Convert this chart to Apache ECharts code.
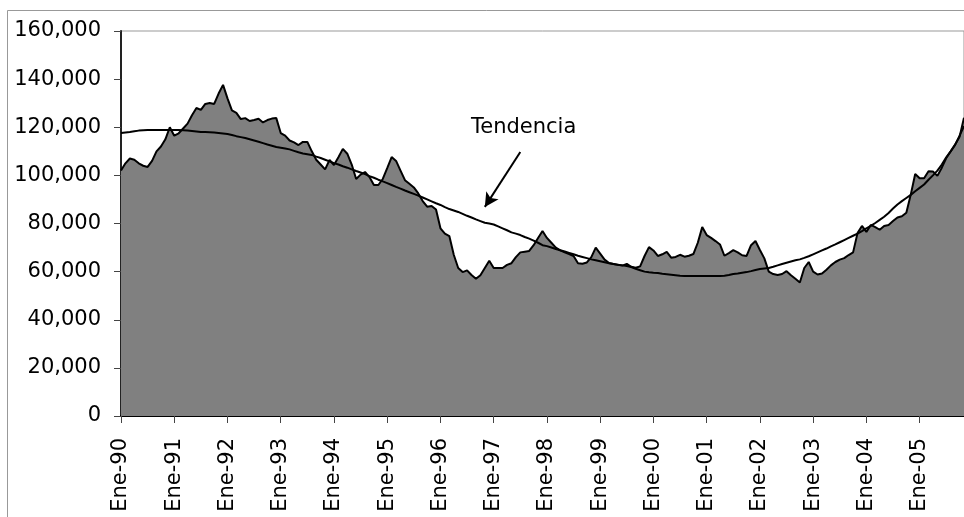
<!DOCTYPE html>
<html>
<head>
<meta charset="utf-8">
<script src="https://cdn.jsdelivr.net/npm/echarts@6/dist/echarts.min.js"></script>
<style>
  html, body { margin: 0; padding: 0; background: #fff; }
  #chart { width: 964px; height: 517px; }
</style>
</head>
<body>
<div id="chart"></div>
<script>
// Meses y años del eje X
const meses = ['Ene', 'Feb', 'Mar', 'Abr', 'May', 'Jun', 'Jul', 'Ago', 'Sep', 'Oct', 'Nov', 'Dic'];
const anios = ['90', '91', '92', '93', '94', '95', '96', '97', '98', '99', '00', '01', '02', '03', '04', '05'];

// Serie mensual (área gris)
const serie = [
    102000, 105000, 107000, 106500, 105000, 104000, 103500, 106000, 110000, 112000, 115000, 120000,
    116500, 117500, 119500, 121500, 125000, 128000, 127200, 129700, 130100, 129700, 134000, 137600,
    132000, 127000, 126000, 123400, 123800, 122600, 123000, 123500, 122000, 123000, 123600, 123800,
    117600, 116500, 114500, 113700, 112600, 113900, 113900, 110000, 106500, 104500, 102500, 106400,
    104300, 107500, 111000, 109000, 104500, 98500, 100300, 101400, 99300, 96000, 96000, 98500,
    103000, 107600, 106000, 102000, 98000, 96500, 95000, 92500, 89300, 87000, 87300, 85800,
    78000, 75800, 74800, 67000, 61500, 59800, 60500, 58600, 57000, 58500, 61500, 64500,
    61500, 61500, 61500, 62800, 63500, 66000, 68000, 68300, 68600, 71000, 74000, 76900,
    74000, 72000, 70000, 68800, 68000, 67300, 66500, 63500, 63300, 63800, 66000, 70000,
    67500, 65000, 63600, 63200, 62800, 62500, 63200, 62000, 61600, 62200, 66500, 70200,
    68800, 66500, 67200, 68200, 65800, 66100, 67000, 66200, 66600, 67300, 72000, 78500,
    75200, 74000, 72700, 71300, 66600, 67700, 68900, 68000, 66800, 66500, 71000, 72700,
    69000, 65500, 60000, 59000, 58600, 59000, 60200, 58500, 57000, 55500, 61500, 64000,
    60000, 58800, 59200, 60800, 62600, 64000, 65000, 65600, 66900, 68000, 76000, 79000,
    76500, 79400, 78500, 77400, 79000, 79400, 81000, 82500, 83000, 84500, 92000, 100600,
    98800, 98800, 101700, 101600, 99800, 103200, 107200, 110000, 112800, 116000, 124000
];

// Tendencia
const tendencia = [
    117600, 117800, 118000, 118300, 118600, 118800, 118900, 118900, 118900, 118900, 118900, 118900,
    118900, 118900, 118800, 118600, 118400, 118200, 118000, 118000, 117900, 117800, 117600, 117400,
    117200, 116800, 116300, 115900, 115500, 115000, 114500, 114000, 113400, 112800, 112300, 111800,
    111500, 111200, 110800, 110200, 109600, 109100, 108800, 108500, 107800, 107200, 106500, 105800,
    105100, 104500, 103800, 103200, 102500, 101800, 101200, 100500, 99700, 99000, 98200, 97500,
    96800, 96000, 95200, 94500, 93700, 93000, 92300, 91600, 90800, 90000, 89200, 88400,
    87700, 86800, 86000, 85400, 84800, 84000, 83200, 82500, 81700, 81000, 80300, 80000,
    79600, 78800, 78000, 77200, 76300, 75800, 75200, 74400, 73700, 72900, 72000, 71000,
    70600, 70000, 69400, 68900, 68400, 67800, 67200, 66600, 66100, 65600, 65100, 64700,
    64300, 63900, 63500, 63200, 62900, 62600, 62300, 61900, 61200, 60600, 60000, 59700,
    59500, 59400, 59100, 58900, 58700, 58500, 58300, 58200, 58200, 58200, 58200, 58200,
    58200, 58200, 58200, 58200, 58300, 58600, 59000, 59200, 59500, 59800, 60200, 60700,
    61100, 61300, 61500, 62000, 62600, 63200, 63700, 64200, 64700, 65100, 65700, 66400,
    67200, 68000, 68800, 69600, 70500, 71300, 72200, 73100, 74000, 74900, 75800, 76800,
    78000, 79000, 80200, 81500, 82800, 84400, 86200, 87900, 89300, 90600, 91900, 93400,
    94800, 96200, 98200, 100000, 102000, 104500, 107500, 110000, 112700, 116500, 120500
];

// Categorías: Ene-90 ... (una por dato)
const categorias = [];
anios.forEach(a => meses.forEach(m => categorias.push(m + '-' + a)));
categorias.length = serie.length;

const fuente = 'DejaVu Sans';

function miles(v) {
    return String(v).replace(/\B(?=(\d{3})+(?!\d))/g, ',');
}

const chart = echarts.init(document.getElementById('chart'));

const option = {
    animation: false,
    backgroundColor: '#fff',
    grid: {
        left: 121,
        top: 31,
        right: -3,
        bottom: 101,
        show: true,
        borderColor: '#999',
        borderWidth: 1
    },
    xAxis: {
        type: 'category',
        data: categorias,
        boundaryGap: false,
        axisLine: { lineStyle: { color: '#000', width: 2 } },
        axisTick: {
            show: true,
            length: 7,
            interval: function(i) { return i % 12 === 0; },
            lineStyle: { color: '#444', width: 1 }
        },
        axisLabel: {
            interval: function(i) { return i % 12 === 0; },
            rotate: 90,
            margin: 22,
            color: '#000',
            fontFamily: fuente,
            fontSize: 21
        },
        splitLine: { show: false }
    },
    yAxis: {
        type: 'value',
        min: 0,
        max: 160000,
        interval: 20000,
        axisLine: { show: true, lineStyle: { color: '#222', width: 2 } },
        axisTick: { show: true, length: 7, lineStyle: { color: '#444', width: 1 } },
        axisLabel: {
            margin: 20,
            color: '#000',
            fontFamily: fuente,
            fontSize: 21,
            formatter: miles
        },
        splitLine: { show: false }
    },
    series: [
        {
            name: 'Serie',
            type: 'line',
            data: serie,
            symbol: 'none',
            lineStyle: { color: '#000', width: 2 },
            areaStyle: { color: '#808080', opacity: 1 },
            z: 2
        },
        {
            name: 'Tendencia',
            type: 'line',
            data: tendencia,
            symbol: 'none',
            lineStyle: { color: '#000', width: 2 },
            z: 3,
            markLine: {
                silent: true,
                symbol: ['none', 'arrow'],
                symbolSize: [11, 14],
                label: { show: false },
                lineStyle: { color: '#000', width: 2, type: 'solid' },
                data: [
                    [{ coord: ['Jul-97', 109700] }, { coord: ['Nov-96', 86900] }]
                ]
            }
        }
    ],
    graphic: [
        {
            type: 'rect',
            shape: { x: 7.5, y: 10.5, width: 1000, height: 600 },
            style: { fill: 'none', stroke: '#999', lineWidth: 1 },
            silent: true
        },
        {
            type: 'text',
            x: 471,
            y: 128,
            style: {
                text: 'Tendencia',
                fill: '#000',
                font: '21px "DejaVu Sans"',
                textVerticalAlign: 'middle'
            },
            silent: true
        }
    ]
};

chart.setOption(option);

window.addEventListener('resize', function() {
    chart.resize();
});
</script>
</body>
</html>
